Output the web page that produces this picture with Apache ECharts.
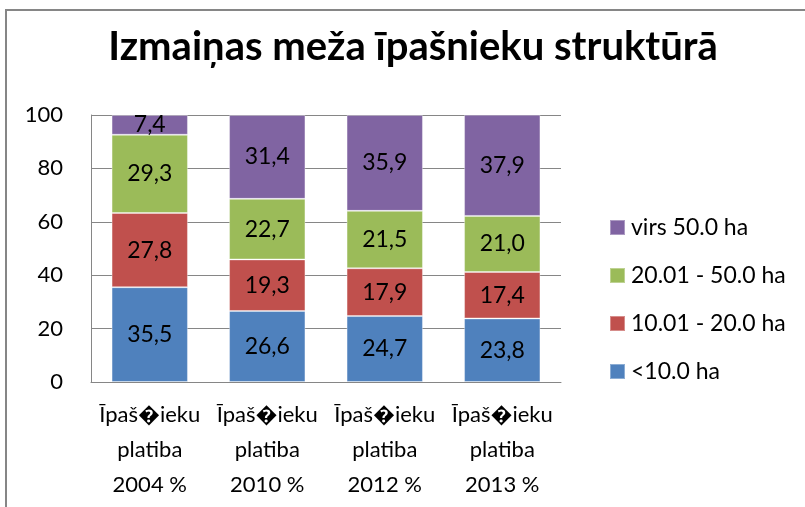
<!DOCTYPE html>
<html>
<head>
<meta charset="utf-8">
<script src="https://cdn.jsdelivr.net/npm/echarts@6/dist/echarts.min.js"></script>
<style>
  html, body { margin: 0; padding: 0; background: #fff; overflow: hidden; }
  #frame { position: absolute; left: 5px; top: 9px; width: 900px; height: 600px; border: 2px solid #868686; }
  #chart { position: absolute; left: 0; top: 0; width: 805px; height: 507px; }
</style>
</head>
<body>
<div id="frame"></div>
<div id="chart"></div>
<script>
// dati
var categories = ['Īpaš\uFFFDieku\nplatiba\n2004 %', 'Īpaš\uFFFDieku\nplatiba\n2010 %', 'Īpaš\uFFFDieku\nplatiba\n2012 %', 'Īpaš\uFFFDieku\nplatiba\n2013 %']
var seriesNames = ['<10.0 ha', '10.01 - 20.0 ha', '20.01 - 50.0 ha', 'virs 50.0 ha']
var under10 = [35.5, 26.6, 24.7, 23.8]
var from10to20 = [27.8, 19.3, 17.9, 17.4]
var from20to50 = [29.3, 22.7, 21.5, 21.0]
var over50 = [7.4, 31.4, 35.9, 37.9]
var colors = ['#4F81BD', '#C0504D', '#9BBB59', '#8064A2']
var yTicks = [0, 20, 40, 60, 80, 100]

var font = 'Lato, "Open Sans", sans-serif'
var chart = echarts.init(document.getElementById('chart'))

function makeSeries(name, data, color) {
  return {
    name: name,
    type: 'bar',
    stack: 'total',
    barCategoryGap: '35%',
    data: data,
    itemStyle: { color: color, borderColor: 'rgba(255,255,255,0.35)', borderWidth: 1 },
    label: {
      show: true,
      position: 'inside',
      color: '#000',
      fontFamily: font,
      fontSize: 23,
      formatter: function (p) { return p.value.toFixed(1).replace('.', ',') }
    }
  }
}

chart.setOption({
  animation: false,
  title: {
    text: 'Izmaiņas meža īpašnieku struktūrā',
    left: 408,
    textAlign: 'center',
    top: 22,
    textStyle: { fontFamily: font, fontWeight: 'bold', fontSize: 40, color: '#000' }
  },
  legend: {
    orient: 'vertical',
    left: 604,
    top: 211,
    itemWidth: 15,
    itemHeight: 15,
    itemGap: 25,
    icon: 'rect',
    data: seriesNames.slice().reverse(),
    textStyle: { fontFamily: font, fontSize: 23, color: '#000', lineHeight: 23, padding: [0, 0, 0, 1] }
  },
  grid: { left: 91, right: 244, top: 115, bottom: 125, containLabel: false },
  xAxis: {
    type: 'category',
    data: categories,
    axisLine: { lineStyle: { color: '#868686', width: 1 } },
    axisTick: { show: false },
    axisLabel: { interval: 0, color: '#000', fontFamily: font, fontSize: 22, lineHeight: 35, margin: 15 }
  },
  yAxis: {
    type: 'value',
    min: yTicks[0],
    max: yTicks[yTicks.length - 1],
    interval: 20,
    axisLine: { show: true, lineStyle: { color: '#868686', width: 1 } },
    axisTick: { show: false },
    splitLine: { lineStyle: { color: '#868686', width: 1 } },
    axisLabel: { color: '#000', fontFamily: font, fontSize: 22, margin: 28 }
  },
  series: [
    makeSeries(seriesNames[0], under10, colors[0]),
    makeSeries(seriesNames[1], from10to20, colors[1]),
    makeSeries(seriesNames[2], from20to50, colors[2]),
    makeSeries(seriesNames[3], over50, colors[3])
  ]
})
</script>
</body>
</html>
